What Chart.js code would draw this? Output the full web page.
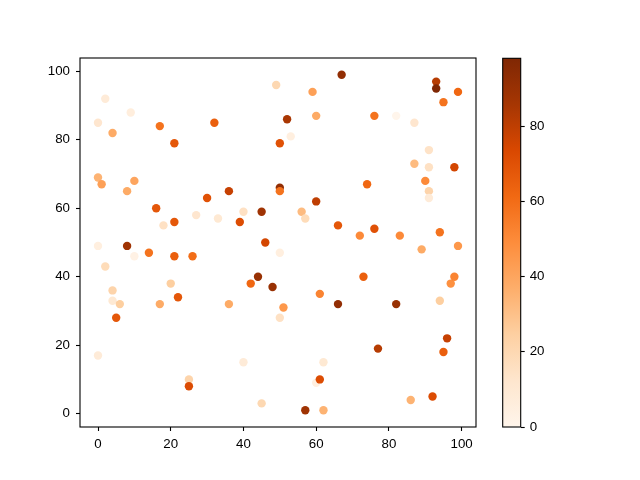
<!DOCTYPE html>
<html>
<head>
<meta charset="utf-8">
<script src="https://cdn.jsdelivr.net/npm/chart.js@4/dist/chart.umd.min.js"></script>
<style>
  html, body { margin: 0; padding: 0; background: #fff; }
  #wrap { position: relative; width: 640px; height: 480px; overflow: hidden; }
  #main { position: absolute; left: 0; top: 0; }
  #cbar { position: absolute; left: 490px; top: 0; }
</style>
</head>
<body>
<div id="wrap">
  <canvas id="main" width="640" height="480"></canvas>
  <canvas id="cbar" width="150" height="480"></canvas>
</div>
<script>
// ---- data ----
const xs = [67,93,93,99,59,49,95,2,9,0,4,17,32,21,52,53,60,50,76,82,87,91,87,91,98,90,91,91,0,1,10,8,36,30,16,21,18,27,33,40,39,45,50,50,56,57,60,66,74,72,76,83,94,99,89,0,8,10,14,21,26,2,4,4,6,5,17,20,22,36,42,46,44,48,51,50,61,73,66,82,77,94,97,98,96,95,92,86,0,25,25,40,45,57,62,60,61,62,50];
const ys = [99,97,95,94,94,96,91,92,88,85,82,84,85,79,86,81,87,79,87,87,85,77,73,72,72,68,65,63,69,67,68,65,65,63,60,56,55,58,57,59,56,59,66,65,59,57,62,55,67,52,54,52,53,49,48,49,49,46,47,46,46,43,36,33,32,28,32,38,34,32,38,50,40,37,31,28,35,40,32,32,19,33,38,40,22,18,5,4,17,10,8,15,3,1,1,9,10,15,47];
const cs = [92,82,98,62,42,20,58,8,6,12,38,58,65,68,85,5,38,70,58,0,12,14,32,15,75,50,22,8,35,42,40,38,78,70,68,68,15,12,10,15,72,88,92,58,32,18,80,68,62,50,70,50,58,45,38,5,88,3,58,65,60,18,22,10,25,68,38,25,68,38,62,75,90,90,45,15,52,65,92,90,82,25,48,52,78,65,72,35,8,22,72,8,20,88,35,5,72,10,5];
const xTicks = [0,20,40,60,80,100];
const yTicks = [0,20,40,60,80,100];
const cbTicks = [0,20,40,60,80];

// ---- colormap (matplotlib "Oranges") ----
const ORANGES = ['#fff5eb','#fee6ce','#fdd0a2','#fdae6b','#fd8d3c','#f16913','#d94801','#a63603','#7f2704'];
function hex2rgb(h){ return [parseInt(h.substr(1,2),16),parseInt(h.substr(3,2),16),parseInt(h.substr(5,2),16)]; }
const RGB = ORANGES.map(hex2rgb);
const vmin = Math.min(...cs), vmax = Math.max(...cs);
function cmap(v){
  let t = (v - vmin) / (vmax - vmin);
  t = Math.max(0, Math.min(1, t));
  const p = t * (RGB.length - 1);
  const i = Math.min(Math.floor(p), RGB.length - 2);
  const f = p - i;
  const a = RGB[i], b = RGB[i+1];
  const c = [0,1,2].map(k => Math.round(a[k] + (b[k]-a[k]) * f));
  return 'rgb(' + c.join(',') + ')';
}
// axis limits with 5% margins, as matplotlib does
function lims(arr){
  const lo = Math.min(...arr), hi = Math.max(...arr), m = 0.05 * (hi - lo);
  return [lo - m, hi + m];
}
const [xMin, xMax] = lims(xs);
const [yMin, yMax] = lims(ys);

const FONT = { family: '"Liberation Sans", Arial, sans-serif', size: 13.3 };
Chart.defaults.font.family = FONT.family;
Chart.defaults.font.size = FONT.size;
Chart.defaults.color = '#000';

const framePlugin = {
  id: 'frame',
  afterDatasetsDraw(chart){
    const {ctx, chartArea: a} = chart;
    ctx.save();
    ctx.strokeStyle = '#000';
    ctx.lineWidth = 1.1;
    ctx.strokeRect(a.left, a.top, a.right - a.left, a.bottom - a.top);
    ctx.restore();
  }
};

function fixTicks(list){
  return function(scale){ scale.ticks = list.map(v => ({ value: v })); };
}
const tickGrid = { display: true, drawOnChartArea: false, drawTicks: true, tickLength: 4, tickColor: '#000', tickWidth: 1.1 };

const points = xs.map((x, i) => ({ x: x, y: ys[i] }));

new Chart(document.getElementById('main'), {
  type: 'scatter',
  data: {
    datasets: [{
      data: points,
      pointRadius: 4.2,
      pointHoverRadius: 4.2,
      borderWidth: 0,
      pointBorderWidth: 0,
      backgroundColor: cs.map(cmap),
      pointBackgroundColor: cs.map(cmap)
    }]
  },
  options: {
    responsive: false,
    animation: false,
    devicePixelRatio: 1,
    layout: { padding: { top: 58, right: 164, bottom: 0, left: 0 } },
    plugins: { legend: { display: false }, tooltip: { enabled: false } },
    scales: {
      x: {
        type: 'linear', min: xMin, max: xMax,
        afterBuildTicks: fixTicks(xTicks),
        afterFit(s){ s.height = 53; },
        grid: tickGrid,
        border: { display: false },
        ticks: { padding: 5, maxRotation: 0, autoSkip: false }
      },
      y: {
        type: 'linear', min: yMin, max: yMax,
        afterBuildTicks: fixTicks(yTicks),
        afterFit(s){ s.width = 80; },
        grid: tickGrid,
        border: { display: false },
        ticks: { padding: 6, autoSkip: false }
      }
    }
  },
  plugins: [framePlugin]
});

new Chart(document.getElementById('cbar'), {
  type: 'bar',
  data: {
    labels: ['c'],
    datasets: [{
      data: [[vmin, vmax]],
      barPercentage: 1,
      categoryPercentage: 1,
      borderWidth: 0,
      backgroundColor(ctx){
        const chart = ctx.chart;
        if (!chart.chartArea) return ORANGES[4];
        const y = chart.scales.y;
        const g = chart.ctx.createLinearGradient(0, y.getPixelForValue(vmin), 0, y.getPixelForValue(vmax));
        ORANGES.forEach((c, i) => g.addColorStop(i / (ORANGES.length - 1), c));
        return g;
      }
    }]
  },
  options: {
    responsive: false,
    animation: false,
    devicePixelRatio: 1,
    layout: { padding: { top: 58.3, right: 0, bottom: 53, left: 12.7 } },
    plugins: { legend: { display: false }, tooltip: { enabled: false } },
    scales: {
      x: { display: false },
      y: {
        position: 'right',
        type: 'linear', min: vmin, max: vmax,
        afterBuildTicks: fixTicks(cbTicks),
        afterFit(s){ s.width = 150 - 30.7; },
        grid: tickGrid,
        border: { display: false },
        ticks: { padding: 5, autoSkip: false }
      }
    }
  },
  plugins: [framePlugin]
});
</script>
</body>
</html>
